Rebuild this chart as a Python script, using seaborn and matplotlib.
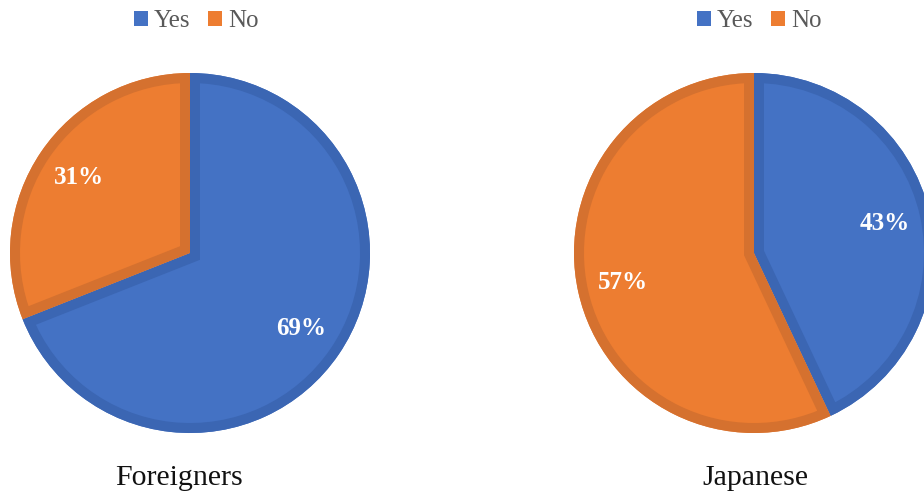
import matplotlib
matplotlib.use("Agg")
import matplotlib.pyplot as plt
from matplotlib.patches import Patch, Wedge
import seaborn as sns

# ---- data ----
groups = ["Foreigners", "Japanese"]
answers = ["Yes", "No"]
yes_pct = [69, 43]
no_pct = [31, 57]

sns.set_theme(style="white")
plt.rcParams["font.family"] = ["Liberation Serif", "DejaVu Serif"]

fills = ["#4472C4", "#ED7D31"]
borders = ["#3B66B3", "#D5712F"]

W, H = 924, 493
fig = plt.figure(figsize=(W / 100, H / 100), dpi=100)

pie_left_px = [10, 574]     # left edge of each pie's bounding box
pie_top_px = 73
diam = 360
legend_cx = [196, 759]
title_cx = [179, 755]

for i, g in enumerate(groups):
    ax = fig.add_axes([pie_left_px[i] / W, (H - pie_top_px - diam) / H, diam / W, diam / H])
    vals = [yes_pct[i], no_pct[i]]
    wedges, texts, autotexts = ax.pie(
        vals, colors=fills, startangle=90, counterclock=False, radius=1,
        autopct=lambda p: f"{p:.0f}%", pctdistance=0.745,
        textprops=dict(color="white", fontsize=18, fontweight="bold"),
    )
    for w, bc in zip(wedges, borders):
        w.set_edgecolor("none")
        w.set_linewidth(0)
        rim = Wedge(w.center, w.r, w.theta1, w.theta2, facecolor="none",
                    edgecolor=bc, linewidth=20 * 72 / 100, joinstyle="miter",
                    zorder=w.get_zorder() + 0.1)
        ax.add_patch(rim)
        rim.set_clip_path(w)
    for t in autotexts:
        t.set_zorder(5)
    ax.set_xlim(-1, 1)
    ax.set_ylim(-1, 1)
    ax.set_aspect("auto")
    ax.axis("off")

    handles = [Patch(facecolor=c, edgecolor="none") for c in fills]
    fig.legend(handles, answers, loc="center", ncol=2, frameon=False,
               bbox_to_anchor=(legend_cx[i] / W, 1 - 21 / H),
               handlelength=0.56, handleheight=0.56, handletextpad=0.24,
               columnspacing=0.72, fontsize=18, labelcolor="#595959")

    fig.text(title_cx[i] / W, 1 - 478 / H, g, ha="center", va="center",
             fontsize=21.5, color="#111111")

fig.savefig("out.png", dpi=100)
